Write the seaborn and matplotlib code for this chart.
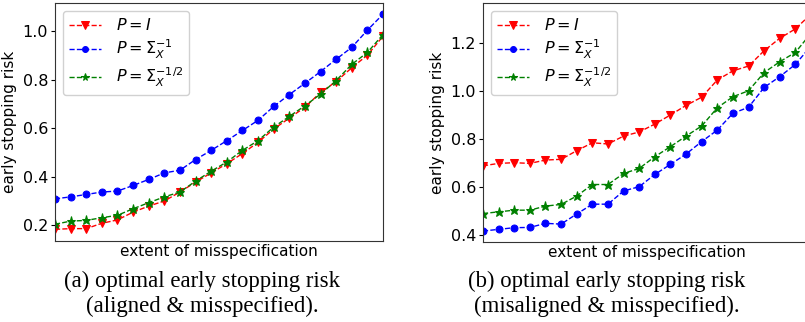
import numpy as np
import pandas as pd
import matplotlib
matplotlib.use("Agg")
import matplotlib.pyplot as plt
import seaborn as sns

sns.set_style("white")
plt.rcParams['font.family'] = ['DejaVu Sans']
plt.rcParams['text.color'] = 'black'
plt.rcParams['axes.labelcolor'] = 'black'
plt.rcParams['xtick.color'] = 'black'
plt.rcParams['ytick.color'] = 'black'
plt.rcParams['axes.edgecolor'] = '#333333'

# extent of misspecification (22 steps)
steps = list(range(22))

# (a) aligned & misspecified
a_identity = [0.182, 0.185, 0.185, 0.207, 0.221, 0.253, 0.278, 0.299, 0.336, 0.377, 0.415,
              0.453, 0.495, 0.541, 0.596, 0.641, 0.686, 0.747, 0.792, 0.849, 0.901, 0.979]
a_inv = [0.308, 0.316, 0.326, 0.336, 0.340, 0.363, 0.388, 0.415, 0.426, 0.470, 0.508,
         0.548, 0.590, 0.632, 0.689, 0.738, 0.785, 0.833, 0.884, 0.933, 1.004, 1.070]
a_invsqrt = [0.203, 0.216, 0.219, 0.230, 0.240, 0.267, 0.292, 0.316, 0.336, 0.381, 0.422,
             0.460, 0.508, 0.548, 0.604, 0.648, 0.692, 0.740, 0.796, 0.863, 0.912, 0.986]

# (b) misaligned & misspecified
b_identity = [0.689, 0.699, 0.702, 0.699, 0.713, 0.716, 0.752, 0.785, 0.780, 0.813, 0.830,
              0.863, 0.901, 0.941, 0.975, 1.047, 1.085, 1.105, 1.169, 1.221, 1.260, 1.322]
b_inv = [0.417, 0.424, 0.431, 0.432, 0.449, 0.446, 0.488, 0.529, 0.529, 0.584, 0.602,
         0.653, 0.695, 0.738, 0.790, 0.838, 0.908, 0.933, 1.016, 1.061, 1.112, 1.189]
b_invsqrt = [0.490, 0.497, 0.504, 0.504, 0.521, 0.528, 0.563, 0.611, 0.611, 0.657, 0.678,
             0.727, 0.769, 0.813, 0.855, 0.931, 0.977, 1.002, 1.078, 1.123, 1.162, 1.242]

labels = [r'$P = I$', r'$P = \Sigma_X^{-1}$', r'$P = \Sigma_X^{-1/2}$']
colors = ['red', 'blue', 'green']
markers = ['v', 'o', '*']
sizes = [6, 5, 6.5]

fig = plt.figure(figsize=(8.05, 3.22), dpi=100)
ax_a = fig.add_axes([0.0683, 0.2516, 0.4075, 0.739])
ax_b = fig.add_axes([0.600, 0.2475, 0.4075, 0.744])


def draw(ax, series, ylim):
    for vals, lab, col, mk, ms in zip(series, labels, colors, markers, sizes):
        df = pd.DataFrame({'step': steps, 'risk': vals})
        sns.lineplot(data=df, x='step', y='risk', ax=ax, color=col, marker=mk,
                     markersize=ms, markeredgecolor=col, linestyle='--',
                     linewidth=1, label=lab)
    ax.set_xlim(0, 21)
    ax.set_ylim(*ylim)
    ax.set_xticks([])
    ax.set_xlabel('extent of misspecification', fontsize=11, labelpad=2)
    ax.set_ylabel('early stopping risk', fontsize=11)
    ax.tick_params(axis='y', labelsize=11.5, left=True, length=3, width=0.8, pad=2)
    ax.legend(loc='upper left', fontsize=11.5, handlelength=2.0, handletextpad=0.9,
              labelspacing=0.28, borderpad=0.4, framealpha=0.9, edgecolor='#cccccc',
              markerscale=0.85)


draw(ax_a, [a_identity, a_inv, a_invsqrt], (0.134, 1.116))
ax_a.set_yticks([0.2, 0.4, 0.6, 0.8, 1.0])
draw(ax_b, [b_identity, b_inv, b_invsqrt], (0.37, 1.369))
ax_b.set_yticks([0.4, 0.6, 0.8, 1.0, 1.2])

cap = dict(ha='center', va='center', fontsize=16.4, family='Liberation Serif')
fig.text(0.251, 0.127, '(a) optimal early stopping risk', **cap)
fig.text(0.251, 0.048, '(aligned & misspecified).', **cap)
fig.text(0.754, 0.127, '(b) optimal early stopping risk', **cap)
fig.text(0.754, 0.048, '(misaligned & misspecified).', **cap)

fig.savefig('out.png', dpi=100)
